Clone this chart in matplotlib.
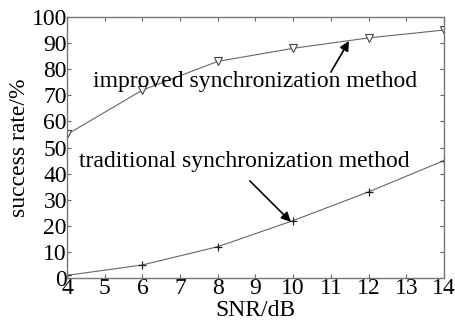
import numpy as np
import matplotlib
matplotlib.use('Agg')
import matplotlib.pyplot as plt

snr = [4, 6, 8, 10, 12, 14]
improved = [55, 72, 83, 88, 92, 95]
traditional = [1, 5, 12, 22, 33, 45]

plt.rcParams['font.family'] = ['Liberation Serif', 'DejaVu Serif']

fig = plt.figure(figsize=(4.56, 3.23), dpi=100)
ax = fig.add_axes([67 / 456, 45 / 323, 377 / 456, 261 / 323])

ax.plot(snr, improved, color='#666666', lw=0.8, marker='v', ms=5.5,
        mfc='white', mec='#444444', mew=0.8)
ax.plot(snr, traditional, color='#666666', lw=0.8, marker='+', ms=5.5,
        mec='#222222', mew=0.9)

ax.set_xlim(4, 14)
ax.set_ylim(0, 100)
ax.set_xticks(np.arange(4, 15, 1))
ax.set_yticks(np.arange(0, 101, 10))
ax.tick_params(direction='in', top=True, right=True, labelsize=17, length=3,
               color='#666666', pad=0)
for s in ax.spines.values():
    s.set_color('#777777')
    s.set_linewidth(1.0)

ax.set_xlabel('SNR/dB', fontsize=17, labelpad=1)
ax.set_ylabel('success rate/%', fontsize=17, labelpad=1)

# annotations
ax.text(8.99, 73.2, 'improved synchronization method', ha='center', va='baseline', fontsize=17)
ax.annotate('', xy=(11.48, 90.8), xytext=(11.0, 78.9),
            arrowprops=dict(arrowstyle='-|>', color='black', lw=1.2,
                            mutation_scale=14, shrinkA=0, shrinkB=0))
ax.text(8.71, 42.5, 'traditional synchronization method', ha='center', va='baseline', fontsize=17)
ax.annotate('', xy=(9.94, 21.5), xytext=(8.85, 37.2),
            arrowprops=dict(arrowstyle='-|>', color='black', lw=1.2,
                            mutation_scale=14, shrinkA=0, shrinkB=0))

fig.savefig('out.png', dpi=100)
